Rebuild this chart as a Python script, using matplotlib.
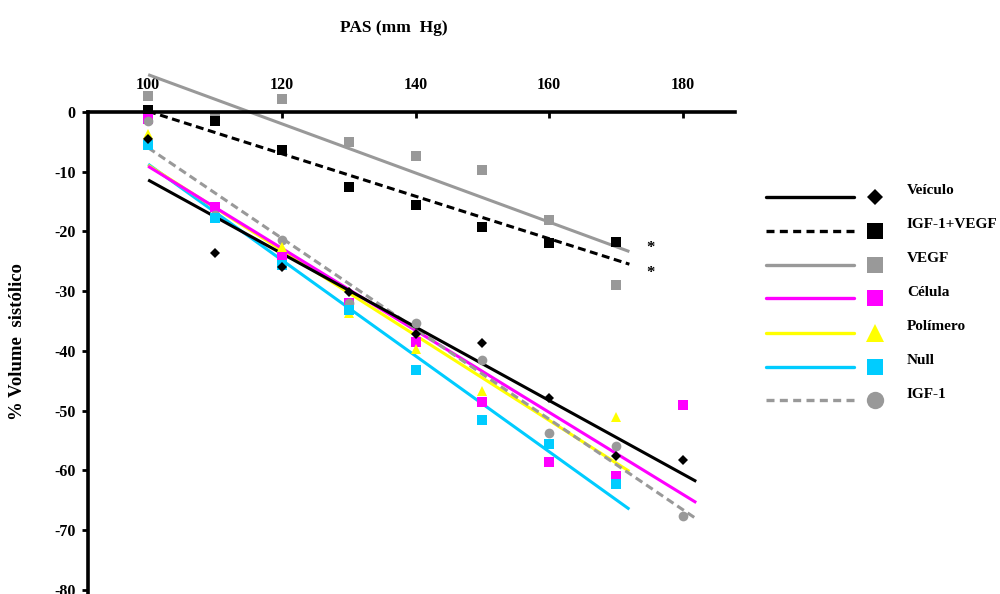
import numpy as np
import matplotlib
matplotlib.use("Agg")
import matplotlib.pyplot as plt

plt.rcParams['font.family'] = ['Liberation Serif', 'DejaVu Serif']
plt.rcParams['font.weight'] = 'bold'
plt.rcParams['axes.unicode_minus'] = False

# Systolic pressure (mm Hg) and % change in systolic volume per group
pas = [100, 110, 120, 130, 140, 150, 160, 170, 180]

veiculo = [-4.6, -23.6, -25.9, -30.2, -37.2, -38.7, -47.8, -57.6, -58.3]
igf1_vegf = [0.3, -1.5, -6.3, -12.5, -15.6, -19.3, -22.0, -21.7]
vegf = [2.7, -0.8, 2.1, -5.1, -7.4, -9.7, -18.1, -28.9]
celula = [-1.2, -15.9, -24.2, -32.0, -38.5, -48.6, -58.5, -60.9, -49.1]
polimero = [-3.7, -17.8, -22.6, -33.7, -39.6, -46.7, -55.5, -51.0]
null = [-5.5, -17.8, -25.6, -33.2, -43.1, -51.5, -55.5, -62.3]
igf1 = [-1.5, -17.3, -21.5, -32.0, -35.4, -41.5, -53.8, -55.9, -67.6]

x_ticks = [100, 120, 140, 160, 180]
y_ticks = [0, -10, -20, -30, -40, -50, -60, -70, -80]

GRAY = '#999999'
MAGENTA = '#ff00ff'
YELLOW = '#ffff00'
CYAN = '#00ccff'

series = [
    dict(label='Veículo', y=veiculo, color='black', dash=None, marker='D', ms=4.6, lms=8.6),
    dict(label='IGF-1+VEGF', y=igf1_vegf, color='black', dash=(2.6, 1.5), marker='s', ms=7, lms=12),
    dict(label='VEGF', y=vegf, color=GRAY, dash=None, marker='s', ms=7, lms=12),
    dict(label='Célula', y=celula, color=MAGENTA, dash=None, marker='s', ms=7, lms=12),
    dict(label='Polímero', y=polimero, color=YELLOW, dash=None, marker='^', ms=7.5, lms=13),
    dict(label='Null', y=null, color=CYAN, dash=None, marker='s', ms=7, lms=12),
    dict(label='IGF-1', y=igf1, color=GRAY, dash=(2.6, 1.5), marker='o', ms=7, lms=12.5),
]
by_label = {s['label']: s for s in series}

fig = plt.figure(figsize=(10, 5.94), dpi=100)
ax = fig.add_axes([0.088, 0.0, 0.647, 0.8923])
ax.set_xlim(91.0, 187.8)
ax.set_ylim(-80.67, 8.03)

# Linear trend lines
line_order = ['Null', 'Polímero', 'Célula', 'IGF-1', 'Veículo', 'VEGF', 'IGF-1+VEGF']
for i, name in enumerate(line_order):
    s = by_label[name]
    xs = np.array(pas[:len(s['y'])], dtype=float)
    slope, icpt = np.polyfit(xs, np.array(s['y']), 1)
    xe = np.array([xs[0], xs[-1] + 2.0])
    ln, = ax.plot(xe, slope * xe + icpt, color=s['color'], lw=2.2,
                  solid_capstyle='butt', zorder=2 + i * 0.01)
    if s['dash'] is not None:
        ln.set_dashes(s['dash'])
        ln.set_dash_capstyle('butt')

# Data points
marker_order = ['VEGF', 'IGF-1+VEGF', 'Célula', 'IGF-1', 'Polímero', 'Null', 'Veículo']
for i, name in enumerate(marker_order):
    s = by_label[name]
    xs = pas[:len(s['y'])]
    ax.plot(xs, s['y'], ls='none', marker=s['marker'], ms=s['ms'],
            color=s['color'], markeredgewidth=0, zorder=4 + i * 0.01)

# Significance marks
ax.text(175.2, -22.7, '*', fontsize=12, ha='center', va='center', zorder=5)
ax.text(175.2, -26.9, '*', fontsize=12, ha='center', va='center', zorder=5)

# Axes styling
for side in ['right', 'bottom']:
    ax.spines[side].set_visible(False)
ax.spines['top'].set_position(('data', 0))
ax.spines['top'].set_linewidth(2.6)
ax.spines['left'].set_linewidth(2.6)
ax.spines['left'].set_bounds(-80.67, 0)
for side in ['top', 'left']:
    ax.spines[side].set_zorder(6)
ax.xaxis.tick_top()
ax.set_xticks(x_ticks)
ax.set_xticklabels([str(v) for v in x_ticks])
ax.set_yticks(y_ticks)
ax.set_yticklabels([str(v) for v in y_ticks])
ax.tick_params(axis='x', direction='in', length=4, width=2, pad=14,
               labelsize=11.5)
ax.tick_params(axis='y', direction='out', length=4, width=2, pad=5,
               labelsize=11.5)
for lab in ax.get_xticklabels() + ax.get_yticklabels():
    lab.set_fontweight('bold')

fig.text(0.394, 1 - 28 / 594, 'PAS (mm  Hg)', ha='center', va='center',
         fontsize=12.5, fontweight='bold')
fig.text(0.018, 1 - 342 / 594, '% Volume  sistólico', ha='center', va='center',
         rotation=90, fontsize=13.5, fontweight='bold')

# Legend drawn in pixel coordinates on an overlay
lg = fig.add_axes([0, 0, 1, 1], facecolor='none')
lg.set_xlim(0, 1000)
lg.set_ylim(594, 0)
lg.axis('off')
row_y = [197, 231, 265, 298, 332.5, 366.5, 400]
for s, yy in zip(series, row_y):
    ln, = lg.plot([766, 854], [yy, yy], color=s['color'], lw=2.4,
                  solid_capstyle='round')
    if s['dash'] is not None:
        ln.set_dashes((2.4, 1.6))
    lg.plot([875], [yy], ls='none', marker=s['marker'], ms=s['lms'],
            color=s['color'], markeredgewidth=0)
    lg.text(907, yy - 6, s['label'], ha='left', va='center', fontsize=11,
            fontweight='bold')

fig.savefig('out.png', dpi=100)
